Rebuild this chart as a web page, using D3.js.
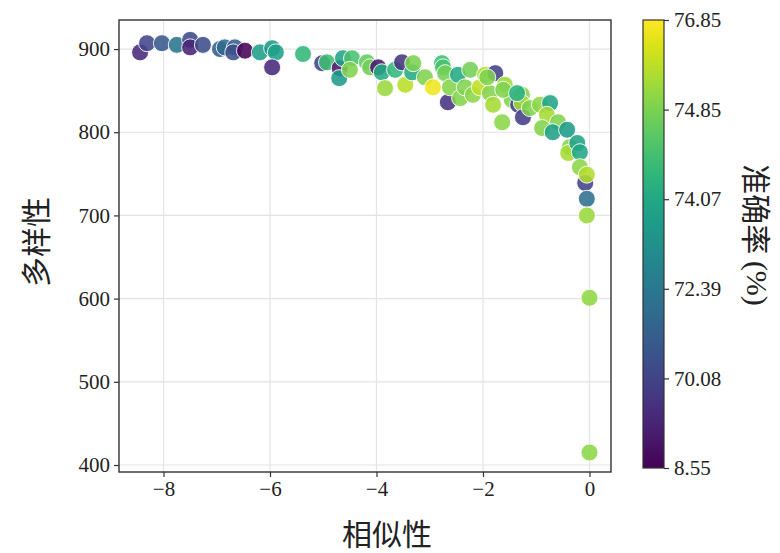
<!DOCTYPE html>
<html>
<head>
<meta charset="utf-8">
<script src="https://cdn.jsdelivr.net/npm/d3@7/dist/d3.min.js"></script>
<style>
  html, body { margin: 0; padding: 0; background: #fff; }
  svg { display: block; }
  .tick text { font-family: "Liberation Serif", "DejaVu Serif", serif; font-size: 21px; fill: #222; }
  .cjk { font-family: "Noto Sans CJK SC", sans-serif; fill: #222; }
  .serif { font-family: "Liberation Serif", serif; }
</style>
</head>
<body>
<svg id="chart" width="780" height="553"></svg>
<script>
// Similarity (x), diversity (y) and accuracy (colour) of each run
const similarity = [
  -8.44, -8.31, -8.03, -7.75, -7.50, -7.50, -7.26, -6.94, -6.85, -6.66,
  -6.69, -6.47, -6.19, -5.96, -5.89, -5.96, -5.38, -5.02, -4.93, -4.69,
  -4.70, -4.63, -4.46, -4.50, -4.18, -4.12, -3.97, -3.90, -3.84, -3.65,
  -3.52, -3.46, -3.33, -3.31, -3.09, -2.94, -2.77, -2.75, -2.71, -2.66,
  -2.62, -2.47, -2.43, -2.24, -2.34, -2.19, -2.06, -1.96, -1.77, -1.87,
  -1.81, -1.92, -1.59, -1.64, -1.46, -1.34, -1.27, -1.27, -1.25, -1.12,
  -0.93, -0.74, -0.80, -0.89, -0.59, -0.69, -0.42, -0.37, -0.40, -0.23,
  -0.18, -0.18, -0.08, -0.05, -0.05, -0.05, 0.00, 0.00, -1.62, -1.36
];
const diversity = [
  896, 907, 907, 905, 911, 902, 905, 900, 902, 902,
  896, 898, 896, 901, 896, 878, 894, 883, 884, 877,
  865, 889, 889, 875, 884, 878, 878, 872, 853, 875,
  884, 857, 872, 883, 866, 854, 883, 878, 871, 836,
  854, 869, 841, 875, 854, 845, 854, 869, 871, 847,
  833, 866, 857, 812, 839, 833, 845, 835, 818, 829,
  833, 835, 821, 805, 812, 800, 803, 782, 775, 787,
  776, 758, 739, 749, 720, 700, 601, 415, 851, 847
];
const accuracy = [
  45.5, 70.1, 70.9, 72.2, 70.3, 39.0, 70.4, 71.2, 71.8, 71.3,
  70.6, 12.0, 73.7, 73.5, 73.8, 45.0, 74.3, 69.0, 74.4, 25.0,
  73.6, 73.9, 74.5, 74.9, 74.7, 74.8, 30.0, 74.1, 75.3, 74.3,
  55.0, 75.8, 74.1, 74.85, 74.9, 76.6, 74.4, 74.5, 74.8, 52.0,
  75.0, 74.1, 75.0, 74.8, 74.9, 75.1, 75.9, 75.6, 68.0, 75.0,
  75.5, 74.9, 75.4, 75.1, 74.9, 69.5, 75.0, 75.5, 65.0, 74.9,
  75.1, 73.9, 75.5, 75.0, 74.9, 73.8, 73.6, 75.0, 75.5, 73.9,
  74.0, 75.1, 69.5, 75.7, 72.0, 75.3, 75.2, 75.1, 74.9, 74.2
];

// Axis ticks and colour-bar tick labels (quantile-style, evenly spaced)
const xTicks = [-8, -6, -4, -2, 0];
const yTicks = [400, 500, 600, 700, 800, 900];
const accTicks = [8.55, 70.08, 72.39, 74.07, 74.85, 76.85];

const points = similarity.map((s, i) => ({ x: s, y: diversity[i], a: accuracy[i] }));

const svg = d3.select("#chart");
const plot = { left: 119, right: 611, top: 20, bottom: 472 };

const x = d3.scaleLinear().domain([-8.836, 0.404]).range([plot.left, plot.right]);
const y = d3.scaleLinear().domain([391.6, 934.9]).range([plot.bottom, plot.top]);

// Accuracy -> position along the colour bar (piecewise between the labelled ticks)
const accPos = d3.scaleLinear()
  .domain(accTicks)
  .range(accTicks.map((_, i) => i / (accTicks.length - 1)))
  .clamp(true);
const color = v => d3.interpolateViridis(accPos(v));

// grid
const grid = svg.append("g");
grid.selectAll("line.gx").data(xTicks).join("line")
  .attr("x1", d => x(d)).attr("x2", d => x(d))
  .attr("y1", plot.top).attr("y2", plot.bottom)
  .attr("stroke", "#e3e3e3").attr("stroke-width", 1.2);
grid.selectAll("line.gy").data(yTicks).join("line")
  .attr("y1", d => y(d)).attr("y2", d => y(d))
  .attr("x1", plot.left).attr("x2", plot.right)
  .attr("stroke", "#e3e3e3").attr("stroke-width", 1.2);

// points
svg.append("g").selectAll("circle").data(points).join("circle")
  .attr("cx", d => x(d.x))
  .attr("cy", d => y(d.y))
  .attr("r", 8.5)
  .attr("fill", d => color(d.a))
  .attr("fill-opacity", 0.88)
  .attr("stroke", "#fff")
  .attr("stroke-width", 0.9);

// axes
const xAxis = svg.append("g")
  .attr("transform", `translate(0,${plot.bottom})`)
  .call(d3.axisBottom(x).tickValues(xTicks).tickSize(5).tickPadding(4)
    .tickFormat(d => d < 0 ? "\u2212" + Math.abs(d) : d));
const yAxis = svg.append("g")
  .attr("transform", `translate(${plot.left},0)`)
  .call(d3.axisLeft(y).tickValues(yTicks).tickSize(5).tickPadding(4));
[xAxis, yAxis].forEach(g => {
  g.select(".domain").remove();
  g.selectAll(".tick line").attr("stroke", "#333").attr("stroke-width", 1.2);
});

// frame
svg.append("rect")
  .attr("x", plot.left).attr("y", plot.top)
  .attr("width", plot.right - plot.left).attr("height", plot.bottom - plot.top)
  .attr("fill", "none").attr("stroke", "#333").attr("stroke-width", 1.4);

// axis titles
svg.append("text").attr("class", "cjk")
  .attr("x", 387).attr("y", 532)
  .attr("text-anchor", "middle").attr("dominant-baseline", "central")
  .attr("font-size", 30).text("相似性");
svg.append("text").attr("class", "cjk")
  .attr("transform", "translate(34,242) rotate(-90)")
  .attr("text-anchor", "middle").attr("dominant-baseline", "central")
  .attr("font-size", 30).text("多样性");

// colour bar
const cb = { left: 643, width: 21, top: 20, bottom: 468 };
const defs = svg.append("defs");
const grad = defs.append("linearGradient").attr("id", "viridis-bar")
  .attr("x1", 0).attr("y1", 1).attr("x2", 0).attr("y2", 0);
d3.range(0, 1.0001, 0.05).forEach(t => {
  grad.append("stop").attr("offset", t).attr("stop-color", d3.interpolateViridis(t));
});
svg.append("rect")
  .attr("x", cb.left).attr("y", cb.top)
  .attr("width", cb.width).attr("height", cb.bottom - cb.top)
  .attr("fill", "url(#viridis-bar)")
  .attr("stroke", "#333").attr("stroke-width", 1.2);

const cbScale = d3.scaleLinear().domain(accTicks)
  .range(accTicks.map((_, i) => cb.bottom - i * (cb.bottom - cb.top) / (accTicks.length - 1)));
const cbAxis = svg.append("g")
  .attr("transform", `translate(${cb.left + cb.width},0)`)
  .call(d3.axisRight(cbScale).tickValues(accTicks).tickSize(5).tickPadding(5)
    .tickFormat(d3.format(".2f")));
cbAxis.select(".domain").remove();
cbAxis.selectAll(".tick line").attr("stroke", "#333").attr("stroke-width", 1.2);

const cbLabel = svg.append("text").attr("class", "cjk")
  .attr("transform", "translate(758,235) rotate(90)")
  .attr("text-anchor", "middle").attr("dominant-baseline", "central")
  .attr("font-size", 30);
cbLabel.append("tspan").text("准确率 ");
cbLabel.append("tspan").attr("class", "serif").text("(%)");
</script>
</body>
</html>
